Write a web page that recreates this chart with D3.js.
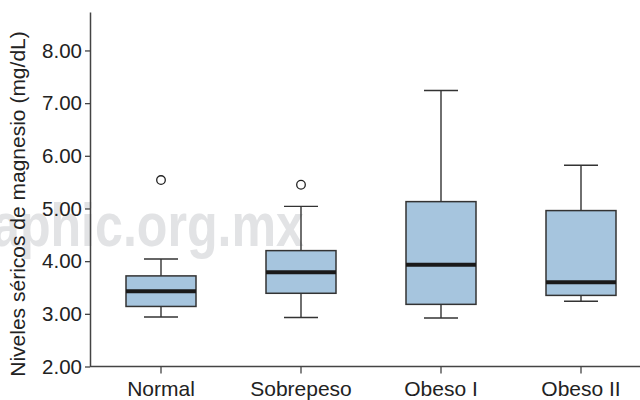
<!DOCTYPE html>
<html>
<head>
<meta charset="utf-8">
<script src="https://cdn.jsdelivr.net/npm/d3@7"></script>
<style>
  body { margin:0; background:#fff; }
  #canvas { width:640px; height:400px; }
  text { font-family: "Liberation Sans", Arial, Helvetica, sans-serif; }
</style>
</head>
<body>
<div id="canvas" class="canvas"></div>
<script>
// data
var categories = ['Normal','Sobrepeso','Obeso I','Obeso II'];
var whiskerLow = [2.94, 2.93, 2.92, 3.24];
var q1 = [3.14, 3.39, 3.18, 3.35];
var median = [3.43, 3.79, 3.93, 3.60];
var q3 = [3.72, 4.20, 5.13, 4.96];
var whiskerHigh = [4.04, 5.04, 7.24, 5.82];
var outliers = [[5.54], [5.45], [], []];
var yTicks = [2, 3, 4, 5, 6, 7, 8];

var W = 640, H = 400;

var svg = d3.select('.canvas')
    .append('svg')
    .attr('width', W)
    .attr('height', H);

// watermark behind everything
svg.append('text')
    .attr('x', -8)
    .attr('y', 246)
    .attr('textLength', 312)
    .attr('lengthAdjust', 'spacingAndGlyphs')
    .style('font-size', '62px')
    .style('font-weight', 'bold')
    .style('fill', '#e2e3e5')
    .text('aphic.org.mx');

var scaleX = d3.scaleBand()
    .domain(categories)
    .range([91, 651]);
var scaleY = d3.scaleLinear()
    .domain([2, 8.73])
    .range([366.5, 12]);

var boxW = scaleX.bandwidth() * 0.5,
    capW = 34;

var rows = categories.map(function(c, i){
    return {cat:c, lo:whiskerLow[i], q1:q1[i], med:median[i], q3:q3[i], hi:whiskerHigh[i], out:outliers[i]};
});

var boxes = svg.selectAll('.box')
    .data(rows)
    .enter()
    .append('g')
    .attr('class', 'box')
    .attr('transform', function(d){ return 'translate(' + (scaleX(d.cat) + scaleX.bandwidth()/2) + ',0)'; });

// whisker stems
boxes.append('line')
    .attr('y1', function(d){ return scaleY(d.lo); })
    .attr('y2', function(d){ return scaleY(d.hi); })
    .style('stroke', '#333').style('stroke-width', 1.4);
// caps
boxes.selectAll('.cap')
    .data(function(d){ return [d.lo, d.hi]; })
    .enter()
    .append('line')
    .attr('class', 'cap')
    .attr('x1', -capW/2).attr('x2', capW/2)
    .attr('y1', function(v){ return scaleY(v); })
    .attr('y2', function(v){ return scaleY(v); })
    .style('stroke', '#333').style('stroke-width', 1.4);
// box
boxes.append('rect')
    .attr('x', -boxW/2)
    .attr('width', boxW)
    .attr('y', function(d){ return scaleY(d.q3); })
    .attr('height', function(d){ return scaleY(d.q1) - scaleY(d.q3); })
    .style('fill', '#a6c5de')
    .style('stroke', '#333')
    .style('stroke-width', 1.5);
// median
boxes.append('line')
    .attr('x1', -boxW/2).attr('x2', boxW/2)
    .attr('y1', function(d){ return scaleY(d.med); })
    .attr('y2', function(d){ return scaleY(d.med); })
    .style('stroke', '#1a1a1a').style('stroke-width', 4);
// outliers
boxes.selectAll('.out')
    .data(function(d){ return d.out; })
    .enter()
    .append('circle')
    .attr('class', 'out')
    .attr('cy', function(v){ return scaleY(v); })
    .attr('r', 4.3)
    .style('fill', '#fff')
    .style('stroke', '#222')
    .style('stroke-width', 1.3);

// axes
var axisY = d3.axisLeft(scaleY)
    .tickValues(yTicks)
    .tickFormat(d3.format('.2f'))
    .tickSize(5)
    .tickSizeOuter(0);
var gy = svg.append('g')
    .attr('class', 'axis axis-y')
    .attr('transform', 'translate(90,0)')
    .call(axisY);

var axisX = d3.axisBottom(scaleX)
    .tickSize(7)
    .tickSizeOuter(0);
var gx = svg.append('g')
    .attr('class', 'axis axis-x')
    .attr('transform', 'translate(0,366.5)')
    .call(axisX);
gx.select('.domain').attr('d', 'M90,0H640');

svg.selectAll('.axis .domain').style('stroke', '#444').style('stroke-width', 1.5);
svg.selectAll('.axis .tick line').style('stroke', '#444').style('stroke-width', 1.3);
gy.selectAll('.tick text')
    .attr('x', -8)
    .style('font-size', '20.5px')
    .style('fill', '#222');
gx.selectAll('.tick text')
    .attr('y', 15)
    .style('font-size', '21px')
    .style('fill', '#222');

// axis title
svg.append('text')
    .attr('transform', 'translate(25,204) rotate(-90)')
    .attr('text-anchor', 'middle')
    .style('font-size', '21px')
    .style('fill', '#222')
    .text('Niveles séricos de magnesio (mg/dL)');
</script>
</body>
</html>
